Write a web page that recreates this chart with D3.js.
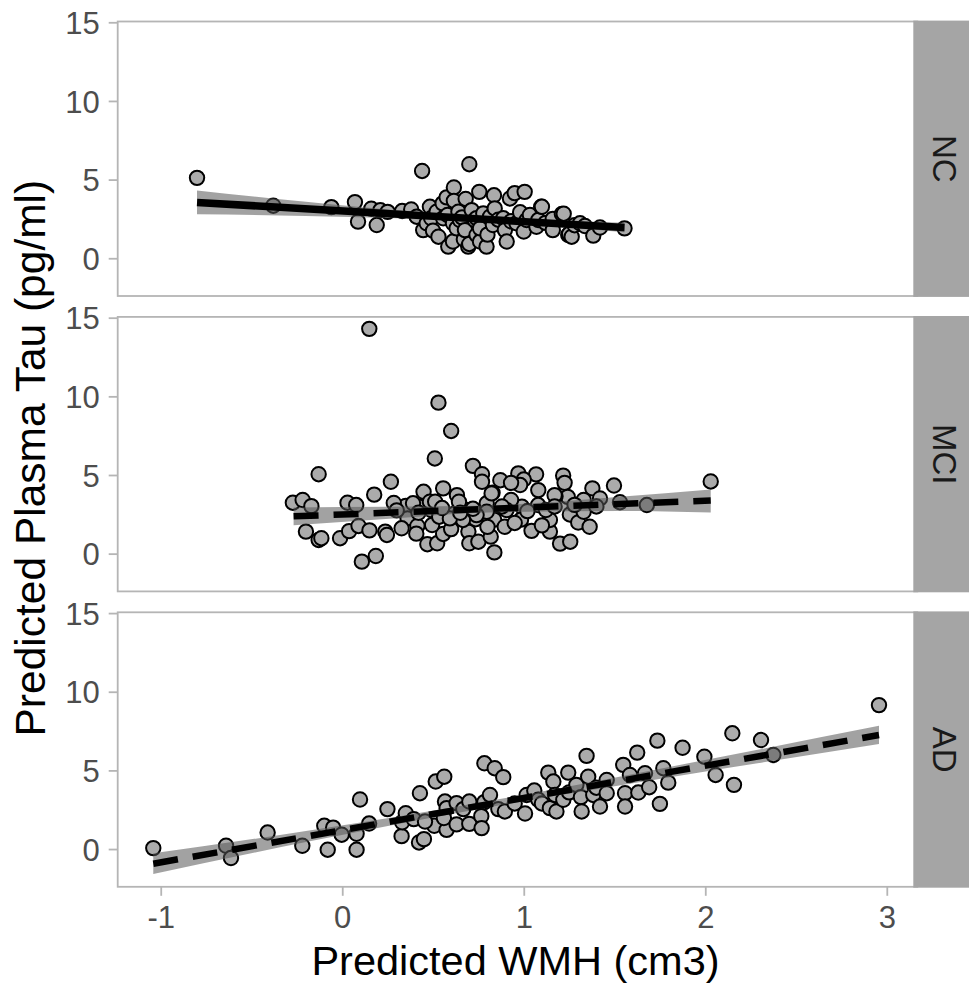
<!DOCTYPE html>
<html>
<head>
<meta charset="utf-8">
<script src="https://cdn.jsdelivr.net/npm/d3@7"></script>
<style>
  body { margin: 0; background: #fff; }
  svg { display: block; font-family: "Liberation Sans", Arial, Helvetica, sans-serif; }
</style>
</head>
<body>
<svg id="chart" width="969" height="985"></svg>
<script>
// facet groups
const groups = ["NC", "MCI", "AD"];

const xTicks = [-1, 0, 1, 2, 3];
const yTicks = [0, 5, 10, 15];

// points: [WMH, tau]
const ncPoints = [
  [-0.80, 5.11], [-0.38, 3.34], [-0.06, 3.25], [0.07, 3.57], [0.087, 2.33],
  [0.16, 3.15], [0.19, 2.11], [0.21, 3.05], [0.25, 2.95], [0.33, 3.0],
  [0.38, 3.10], [0.41, 2.64], [0.44, 5.55], [0.446, 1.79], [0.465, 2.22],
  [0.483, 3.27], [0.49, 2.54], [0.5, 1.75], [0.52, 2.96], [0.53, 1.37],
  [0.553, 3.49], [0.556, 2.54], [0.575, 3.87], [0.58, 2.75], [0.584, 0.74],
  [0.61, 1.06], [0.61, 2.22], [0.615, 4.50], [0.615, 3.65], [0.63, 1.90],
  [0.64, 2.96], [0.648, 2.43], [0.66, 2.6], [0.67, 1.2], [0.676, 1.79],
  [0.68, 3.77], [0.694, 0.74], [0.70, 5.98], [0.70, 0.91], [0.713, 3.06],
  [0.73, 2.43], [0.74, 2.55], [0.74, 1.48], [0.755, 4.22], [0.759, 1.06],
  [0.759, 1.90], [0.777, 2.85], [0.795, 0.74], [0.8, 1.5], [0.814, 2.64],
  [0.83, 2.11], [0.836, 4.00], [0.84, 3.17], [0.86, 2.45], [0.887, 2.54],
  [0.896, 1.79], [0.906, 1.06], [0.924, 3.80], [0.93, 2.35], [0.95, 4.14],
  [0.96, 2.22], [0.98, 2.92], [1.0, 1.7], [1.005, 4.22], [1.016, 2.43],
  [1.034, 2.75], [1.07, 2.0], [1.08, 2.43], [1.096, 3.27], [1.10, 3.27],
  [1.12, 2.25], [1.16, 2.50], [1.16, 1.79], [1.21, 2.81], [1.22, 2.83],
  [1.245, 1.48], [1.25, 1.54], [1.264, 1.37], [1.28, 2.1], [1.31, 2.22],
  [1.337, 2.05], [1.383, 1.44], [1.42, 1.95], [1.555, 1.90]
];

const mciPoints = [
  [0.149, 14.29], [0.53, 9.60], [0.60, 7.80], [0.51, 6.05], [0.72, 5.58],
  [-0.13, 5.05], [0.268, 4.57], [0.176, 3.75], [-0.272, 3.24], [-0.218, 3.41],
  [-0.17, 3.02], [0.029, 3.24], [0.077, 3.09], [-0.20, 1.40], [-0.13, 0.87],
  [-0.115, 0.98], [-0.012, 0.98], [0.038, 1.43], [0.09, 1.76], [0.15, 1.48],
  [0.108, -0.51], [0.185, -0.15], [0.237, 1.40], [0.246, 1.19], [2.03, 4.59],
  [1.678, 3.09], [1.497, 4.33], [1.53, 3.27], [1.378, 4.15], [1.217, 4.96],
  [1.225, 4.50], [1.068, 5.04], [1.08, 4.04], [0.97, 5.10], [1.0, 4.71],
  [0.98, 4.36], [0.871, 4.67], [0.77, 5.05], [0.77, 4.57], [0.93, 4.5],
  [0.828, 3.87], [0.632, 3.72], [0.556, 4.15], [0.448, 3.93], [1.242, 3.61],
  [1.33, 3.41], [1.42, 3.51], [1.175, 3.65], [1.079, 3.09], [0.99, 2.98],
  [0.93, 3.41], [0.796, 3.20], [0.686, 2.77], [0.62, 2.56], [0.49, 2.77],
  [0.425, 2.98], [0.35, 3.04], [0.284, 3.22], [0.39, 3.20], [0.483, 3.30],
  [0.36, 2.24], [0.414, 1.76], [0.408, 1.27], [0.469, 0.60], [0.523, 0.66],
  [0.556, 1.25], [0.60, 1.56], [0.495, 1.82], [0.534, 2.35], [0.695, 1.40],
  [0.70, 0.66], [0.75, 0.76], [0.818, 1.08], [0.838, 0.08], [0.735, 2.19],
  [0.837, 2.16], [0.895, 1.71], [0.985, 2.16], [1.043, 1.45], [1.144, 1.40],
  [1.144, 2.14], [1.254, 2.49], [1.2, 0.64], [1.256, 0.76], [1.30, 1.98],
  [1.363, 1.71], [1.33, 2.66], [1.122, 2.77], [0.905, 2.77], [0.643, 3.30],
  [0.512, 3.30], [0.665, 2.14], [0.796, 2.66], [0.327, 1.61], [0.593, 2.24],
  [0.65, 2.6], [0.74, 2.45], [0.823, 3.83], [1.17, 3.72], [0.55, 2.9],
  [0.72, 2.85], [0.88, 3.0], [1.02, 2.7], [1.17, 3.0], [1.28, 3.1],
  [1.4, 3.0], [0.42, 2.6], [0.95, 1.95], [1.1, 1.8], [0.3, 2.75], [0.8, 1.7]
];

const adPoints = [
  [-1.041, 0.06], [-0.64, 0.21], [-0.613, -0.57], [-0.411, 1.05], [-0.22, 0.21],
  [-0.099, 1.48], [-0.05, 1.36], [-0.08, -0.04], [-0.003, 0.91], [0.079, 0.97],
  [0.079, -0.04], [0.098, 3.15], [0.148, 1.62], [0.249, 2.54], [0.327, 0.82],
  [0.33, 1.7], [0.35, 2.28], [0.394, 1.90], [0.428, 3.55], [0.423, 0.42],
  [0.45, 0.63], [0.515, 4.29], [0.562, 4.60], [0.507, 1.48], [0.456, 1.75],
  [0.575, 1.22], [0.566, 3.02], [0.575, 2.60], [0.56, 1.97], [0.63, 2.92],
  [0.63, 1.57], [0.667, 2.54], [0.70, 3.02], [0.70, 1.60], [0.766, 2.09],
  [0.768, 1.33], [0.783, 5.45], [0.84, 5.14], [0.887, 4.57], [0.783, 2.98],
  [0.814, 3.44], [0.86, 2.54], [0.896, 2.39], [0.95, 2.9], [1.007, 2.26],
  [1.016, 3.44], [1.058, 3.72], [1.08, 3.13], [1.1, 2.9], [1.135, 4.86],
  [1.163, 4.29], [1.144, 2.60], [1.18, 2.39], [1.172, 3.44], [1.218, 3.13],
  [1.245, 4.86], [1.25, 3.6], [1.29, 4.08], [1.315, 3.30], [1.319, 2.39],
  [1.346, 5.92], [1.355, 4.60], [1.383, 3.44], [1.4, 3.9], [1.42, 2.70],
  [1.457, 4.39], [1.457, 3.55], [1.548, 5.35], [1.558, 3.55], [1.558, 2.70],
  [1.585, 4.71], [1.625, 6.13], [1.631, 3.59], [1.668, 4.82], [1.691, 3.93],
  [1.736, 6.89], [1.75, 2.87], [1.769, 5.14], [1.796, 4.22], [1.875, 6.44],
  [1.995, 5.87], [2.057, 4.71], [2.149, 7.36], [2.158, 4.08], [2.307, 6.93],
  [2.375, 5.98], [2.957, 9.15]
];

// fitted lines (end points) and confidence bands
const ncFit = [[-0.80, 3.55], [1.555, 1.95]];
const mciFit = [[-0.268, 2.37], [2.03, 3.38]];
const adFit = [[-1.041, -0.93], [2.957, 7.25]];

const ncBandX = [-0.80, -0.2, 0.4, 0.75, 1.1, 1.555];
const ncBandLo = [2.79, 2.69, 2.51, 2.35, 2.08, 1.65];
const ncBandHi = [4.31, 3.59, 2.95, 2.65, 2.44, 2.25];

const mciBandX = [-0.268, 0.26, 0.8, 1.53, 2.03];
const mciBandLo = [1.80, 2.22, 2.62, 2.71, 2.62];
const mciBandHi = [2.94, 2.98, 3.06, 3.61, 4.08];

const adBandX = [-1.041, -0.2, 0.9, 1.9, 2.957];
const adBandLo = [-1.59, 0.44, 2.84, 4.74, 6.67];
const adBandHi = [-0.27, 1.14, 3.24, 5.44, 7.83];

const panels = [
  { name: groups[0], points: ncPoints, fit: ncFit, bx: ncBandX, lo: ncBandLo, hi: ncBandHi, dash: null },
  { name: groups[1], points: mciPoints, fit: mciFit, bx: mciBandX, lo: mciBandLo, hi: mciBandHi, dash: "25,15" },
  { name: groups[2], points: adPoints, fit: adFit, bx: adBandX, lo: adBandLo, hi: adBandHi, dash: "25,15" }
];

const svg = d3.select("#chart");
const left = 117.7, right = 913.3, stripW = 56;
const top0 = 21.5, panelH = 274.5, step = 295.4;
const borderCol = "#b5b5b5";

const x = d3.scaleLinear().domain([-1.237, 3.146]).range([left, right]);
const y = d3.scaleLinear().domain([-2.4, 15.05]).range([panelH, 0]);

const band = d3.area()
  .x((d) => x(d[0]))
  .y0((d) => y(d[1]))
  .y1((d) => y(d[2]))
  .curve(d3.curveMonotoneX);
const line = d3.line().x((d) => x(d[0])).y((d) => y(d[1]));

panels.forEach((p, i) => {
  const g = svg.append("g").attr("transform", `translate(0,${top0 + i * step})`);

  g.append("rect")
    .attr("x", left).attr("y", 0)
    .attr("width", right - left).attr("height", panelH)
    .attr("fill", "#fff");

  // y axis
  const ya = g.append("g")
    .attr("transform", `translate(${left},0)`)
    .call(d3.axisLeft(y).tickValues(yTicks).tickSize(9).tickPadding(9));
  ya.select(".domain").remove();
  ya.selectAll(".tick line").attr("stroke", borderCol).attr("stroke-width", 1.8);
  ya.selectAll(".tick text")
    .attr("fill", "#4d4d4d")
    .attr("font-size", 31)
    .attr("dy", "0.36em");

  const clip = "clip" + i;
  g.append("clipPath").attr("id", clip)
    .append("rect").attr("x", left).attr("y", 0)
    .attr("width", right - left).attr("height", panelH);

  const inner = g.append("g").attr("clip-path", `url(#${clip})`);

  inner.selectAll("circle")
    .data(p.points)
    .join("circle")
    .attr("cx", (d) => x(d[0]))
    .attr("cy", (d) => y(d[1]))
    .attr("r", 7.2)
    .attr("fill", "#ababab")
    .attr("stroke", "#000")
    .attr("stroke-width", 2);

  inner.append("path")
    .datum(p.bx.map((v, k) => [v, p.lo[k], p.hi[k]]))
    .attr("d", band)
    .attr("fill", "#555")
    .attr("fill-opacity", 0.55);

  inner.append("path")
    .datum(p.fit)
    .attr("d", line)
    .attr("fill", "none")
    .attr("stroke", "#000")
    .attr("stroke-width", p.dash ? 6.5 : 7.5)
    .attr("stroke-dasharray", p.dash);

  g.append("rect")
    .attr("x", left).attr("y", 0)
    .attr("width", right - left + 4).attr("height", panelH)
    .attr("fill", "none")
    .attr("stroke", borderCol)
    .attr("stroke-width", 1.8);

  // strip
  g.append("rect")
    .attr("x", right).attr("y", -0.9)
    .attr("width", stripW).attr("height", panelH + 1.8)
    .attr("fill", "#a5a5a5");
  g.append("text")
    .attr("transform", `translate(${right + 20},${panelH / 2}) rotate(90)`)
    .attr("text-anchor", "middle")
    .attr("font-size", 33)
    .attr("fill", "#1a1a1a")
    .text(p.name);
});

// x axis under the last panel
const xa = svg.append("g")
  .attr("transform", `translate(0,${top0 + 2 * step + panelH})`)
  .call(d3.axisBottom(x).tickValues(xTicks).tickSize(9).tickPadding(10).tickFormat((d) => String(d)));
xa.select(".domain").remove();
xa.selectAll(".tick line").attr("stroke", borderCol).attr("stroke-width", 1.8);
xa.selectAll(".tick text").attr("fill", "#4d4d4d").attr("font-size", 31);

svg.append("text")
  .attr("x", (left + right) / 2)
  .attr("y", 975)
  .attr("text-anchor", "middle")
  .attr("font-size", 41.5)
  .text("Predicted WMH (cm3)");

svg.append("text")
  .attr("transform", `translate(45,${(top0 + top0 + 2 * step + panelH) / 2 + 4}) rotate(-90)`)
  .attr("text-anchor", "middle")
  .attr("font-size", 42.5)
  .text("Predicted Plasma Tau (pg/ml)");
</script>
</body>
</html>
